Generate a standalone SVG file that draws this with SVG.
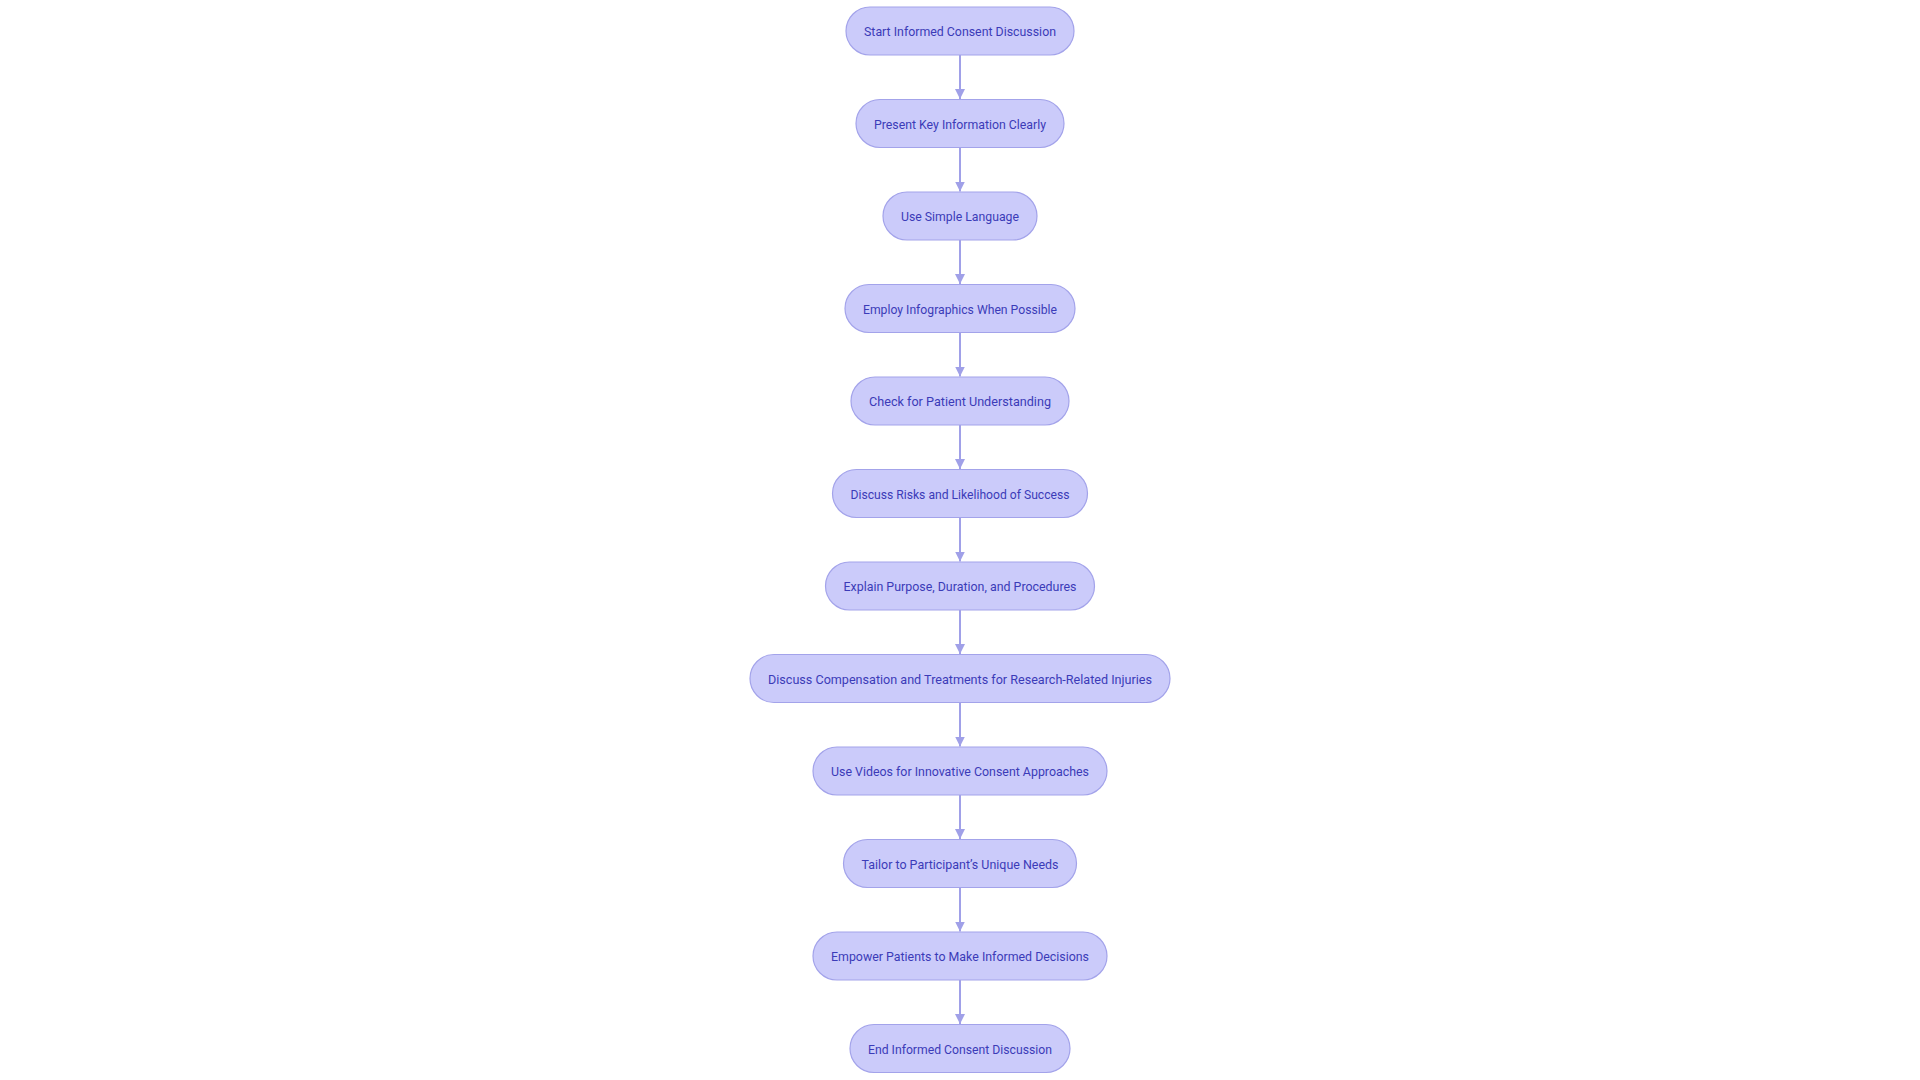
<svg xmlns="http://www.w3.org/2000/svg" width="1920" height="1080" viewBox="0 0 1920 1080">
<defs>
<style>
.node rect{fill:#cbcbfa;stroke:#a3a3ea;stroke-width:1.2}
.node text{font-family:Roboto,"Noto Sans",sans-serif;font-size:13.5px;fill:#3b3bb8;text-anchor:middle}
.edges line{stroke:#a0a0e8;stroke-width:2;fill:none}
</style>
<marker id="arr" markerUnits="userSpaceOnUse" markerWidth="10" markerHeight="10" refX="10" refY="5" orient="auto" viewBox="0 0 10 10">
<path d="M0,0 L10,5 L0,10 z" fill="#a0a0e8"/>
</marker>
</defs>
<rect width="1920" height="1080" fill="#ffffff"/>
<g class="edges">
<line x1="960" y1="55" x2="960" y2="99" marker-end="url(#arr)"/>
<line x1="960" y1="147.5" x2="960" y2="191.5" marker-end="url(#arr)"/>
<line x1="960" y1="240" x2="960" y2="284" marker-end="url(#arr)"/>
<line x1="960" y1="332.5" x2="960" y2="376.5" marker-end="url(#arr)"/>
<line x1="960" y1="425" x2="960" y2="469" marker-end="url(#arr)"/>
<line x1="960" y1="517.5" x2="960" y2="561.5" marker-end="url(#arr)"/>
<line x1="960" y1="610" x2="960" y2="654" marker-end="url(#arr)"/>
<line x1="960" y1="702.5" x2="960" y2="746.5" marker-end="url(#arr)"/>
<line x1="960" y1="795" x2="960" y2="839" marker-end="url(#arr)"/>
<line x1="960" y1="887.5" x2="960" y2="931.5" marker-end="url(#arr)"/>
<line x1="960" y1="980" x2="960" y2="1024" marker-end="url(#arr)"/>
</g>
<g id="n1" class="node"><rect x="846" y="7" width="228" height="48" rx="24"/><text x="960" y="36" textLength="192" lengthAdjust="spacingAndGlyphs">Start Informed Consent Discussion</text></g>
<g id="n2" class="node"><rect x="856" y="99.5" width="208" height="48" rx="24"/><text x="960" y="128.5" textLength="172" lengthAdjust="spacingAndGlyphs">Present Key Information Clearly</text></g>
<g id="n3" class="node"><rect x="883" y="192" width="154" height="48" rx="24"/><text x="960" y="221" textLength="118" lengthAdjust="spacingAndGlyphs">Use Simple Language</text></g>
<g id="n4" class="node"><rect x="845" y="284.5" width="230" height="48" rx="24"/><text x="960" y="313.5" textLength="194" lengthAdjust="spacingAndGlyphs">Employ Infographics When Possible</text></g>
<g id="n5" class="node"><rect x="851" y="377" width="218" height="48" rx="24"/><text x="960" y="406" textLength="182" lengthAdjust="spacingAndGlyphs">Check for Patient Understanding</text></g>
<g id="n6" class="node"><rect x="832.5" y="469.5" width="255" height="48" rx="24"/><text x="960" y="498.5" textLength="219" lengthAdjust="spacingAndGlyphs">Discuss Risks and Likelihood of Success</text></g>
<g id="n7" class="node"><rect x="825.5" y="562" width="269" height="48" rx="24"/><text x="960" y="591" textLength="233" lengthAdjust="spacingAndGlyphs">Explain Purpose, Duration, and Procedures</text></g>
<g id="n8" class="node"><rect x="750" y="654.5" width="420" height="48" rx="24"/><text x="960" y="683.5" textLength="384" lengthAdjust="spacingAndGlyphs">Discuss Compensation and Treatments for Research-Related Injuries</text></g>
<g id="n9" class="node"><rect x="813" y="747" width="294" height="48" rx="24"/><text x="960" y="776" textLength="258" lengthAdjust="spacingAndGlyphs">Use Videos for Innovative Consent Approaches</text></g>
<g id="n10" class="node"><rect x="843.5" y="839.5" width="233" height="48" rx="24"/><text x="960" y="868.5" textLength="197" lengthAdjust="spacingAndGlyphs">Tailor to Participant’s Unique Needs</text></g>
<g id="n11" class="node"><rect x="813" y="932" width="294" height="48" rx="24"/><text x="960" y="961" textLength="258" lengthAdjust="spacingAndGlyphs">Empower Patients to Make Informed Decisions</text></g>
<g id="n12" class="node"><rect x="850" y="1024.5" width="220" height="48" rx="24"/><text x="960" y="1053.5" textLength="184" lengthAdjust="spacingAndGlyphs">End Informed Consent Discussion</text></g>
</svg>
